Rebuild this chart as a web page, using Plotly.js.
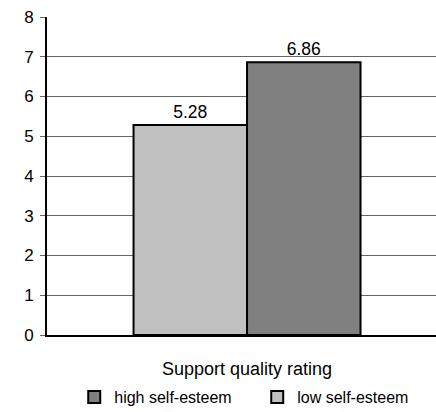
<!DOCTYPE html>
<html>
<head>
<meta charset="utf-8">
<script src="https://cdn.plot.ly/plotly-3.0.1.min.js"></script>
<style>html,body{margin:0;padding:0;background:#fff;}#chart{width:436px;height:412px;}</style>
</head>
<body>
<div id="chart"></div>
<script>
const categories = ["Support quality rating"];
const seriesNames = ["low self-esteem", "high self-esteem"];
const lowValues = [5.28];
const highValues = [6.86];
const lowLabels = ["5.28"];
const highLabels = ["6.86"];
const yTicks = [0, 1, 2, 3, 4, 5, 6, 7, 8];

const fam = "Liberation Sans, Arial, sans-serif";
const tickFont = {family: fam, size: 17, color: "#000"};
const labelFont = {family: fam, size: 17.5, color: "#000"};
const catFont = {family: fam, size: 18, color: "#000"};
const legendFont = {family: fam, size: 16, color: "#000"};

const traces = [
  {
    type: "bar", name: seriesNames[0], x: categories, y: lowValues,
    text: lowLabels, textposition: "outside", cliponaxis: false,
    textfont: labelFont,
    marker: {color: "#c0c0c0", line: {color: "#000", width: 2}},
    hoverinfo: "none"
  },
  {
    type: "bar", name: seriesNames[1], x: categories, y: highValues,
    text: highLabels, textposition: "outside", cliponaxis: false,
    textfont: labelFont,
    marker: {color: "#808080", line: {color: "#000", width: 2}},
    hoverinfo: "none"
  }
];

const layout = {
  width: 436, height: 412,
  margin: {l: 47, r: 0, t: 17, b: 77, autoexpand: false},
  paper_bgcolor: "#fff", plot_bgcolor: "#fff",
  font: tickFont,
  barmode: "group", bargap: 0.2, bargroupgap: 0,
  showlegend: true,
  legend: {
    orientation: "h", traceorder: "reversed",
    x: 0.07, xanchor: "left", y: -0.195, yanchor: "middle",
    entrywidth: 138, font: legendFont, bgcolor: "rgba(0,0,0,0)"
  },
  xaxis: {
    type: "category", range: [-0.705, 0.666],
    showline: true, linecolor: "#000", linewidth: 2,
    ticks: "", showgrid: false, zeroline: false,
    ticklabelstandoff: 16, tickfont: catFont, automargin: false
  },
  yaxis: {
    range: [0, 8], tickvals: yTicks, ticktext: yTicks.map(String),
    showline: true, linecolor: "#000", linewidth: 2,
    ticks: "outside", ticklen: 5, tickcolor: "#666", tickwidth: 1,
    showgrid: true, gridcolor: "#666", gridwidth: 1,
    zeroline: false, ticklabelstandoff: 3, tickfont: tickFont, automargin: false
  }
};

Plotly.newPlot("chart", traces, layout, {staticPlot: true});
</script>
</body>
</html>
